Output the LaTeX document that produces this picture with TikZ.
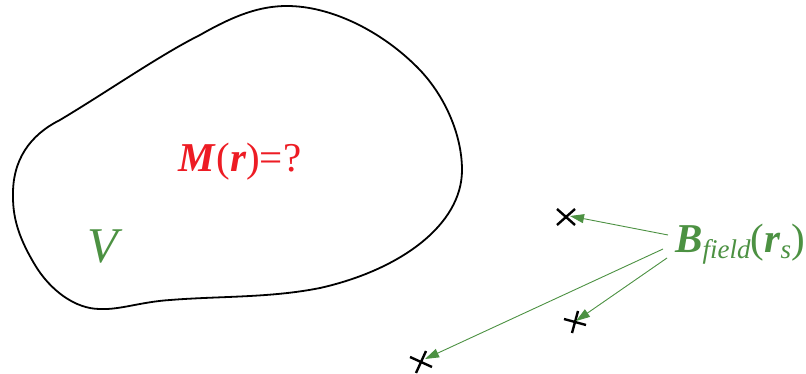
\documentclass[tikz,border=0pt]{standalone}
\usepackage{fontspec}
\setmainfont{Liberation Serif}
\usetikzlibrary{arrows.meta}
\definecolor{fgreen}{RGB}{76,145,66}
\definecolor{fred}{RGB}{237,28,36}
\tikzset{
  blob/.style={draw=black, line width=1.8pt, line join=round},
  crossmark/.style={draw=black, line width=2.4pt},
  fieldarrow/.style={draw=fgreen, line width=0.9pt, -{Triangle[length=14pt,width=9pt]}},
  lbl/.style={inner sep=0pt, anchor=base}
}
\begin{document}
\begin{tikzpicture}[x=1pt,y=-1pt]
\useasboundingbox (0,0) rectangle (806,374);
\draw[blob] (13,197) .. controls (12,160) and (30,135) .. (60,120)
  .. controls (110,90) and (160,55) .. (200,35)
  .. controls (235,15) and (260,6) .. (287,6)
  .. controls (330,6) and (380,30) .. (417,67)
  .. controls (445,95) and (462,135) .. (462,170)
  .. controls (462,225) and (400,270) .. (320,288)
  .. controls (270,298) and (220,296) .. (170,300)
  .. controls (140,302) and (120,310) .. (100,309)
  .. controls (75,309) and (50,290) .. (35,265)
  .. controls (20,240) and (13,220) .. (13,197) -- cycle;
\node[lbl, text=fred, font=\fontsize{41}{41}\selectfont] (M) at (240,172)
  {\textbf{\textit{M}}(\textbf{\textit{r}})=?};
\node[lbl, text=fgreen, font=\fontsize{50}{50}\selectfont] (V) at (105,262) {\textit{V}};
\node[lbl, text=fgreen, font=\fontsize{41}{41}\selectfont] (B) at (740,252)
  {\textbf{\textit{B}}\raisebox{-6pt}{\fontsize{27}{27}\selectfont\textit{field}}(\textbf{\textit{r}}\raisebox{-6pt}{\fontsize{27}{27}\selectfont\textit{s}})};
% crosses
\coordinate (c1) at (566,217);
\coordinate (c2) at (575,322);
\coordinate (c3) at (421,362);
\draw[crossmark] ([shift={(-9,-8)}]c1) -- ([shift={(9,8)}]c1);
\draw[crossmark] ([shift={(-9,8)}]c1) -- ([shift={(9,-8)}]c1);
\draw[crossmark] ([shift={(-11,-3)}]c2) -- ([shift={(11,3)}]c2);
\draw[crossmark] ([shift={(3,-11)}]c2) -- ([shift={(-3,11)}]c2);
\draw[crossmark] ([shift={(-11,-5)}]c3) -- ([shift={(11,5)}]c3);
\draw[crossmark] ([shift={(5,-11)}]c3) -- ([shift={(-5,11)}]c3);
% arrows
\coordinate (s1) at (668,235);
\coordinate (s2) at (667,258);
\coordinate (s3) at (663,249);
\coordinate (t1) at (570,216);
\coordinate (t2) at (576,321);
\coordinate (t3) at (425,359);
\draw[fieldarrow] (s1) -- (t1);
\draw[fieldarrow] (s2) -- (t2);
\draw[fieldarrow] (s3) -- (t3);
\end{tikzpicture}
\end{document}
